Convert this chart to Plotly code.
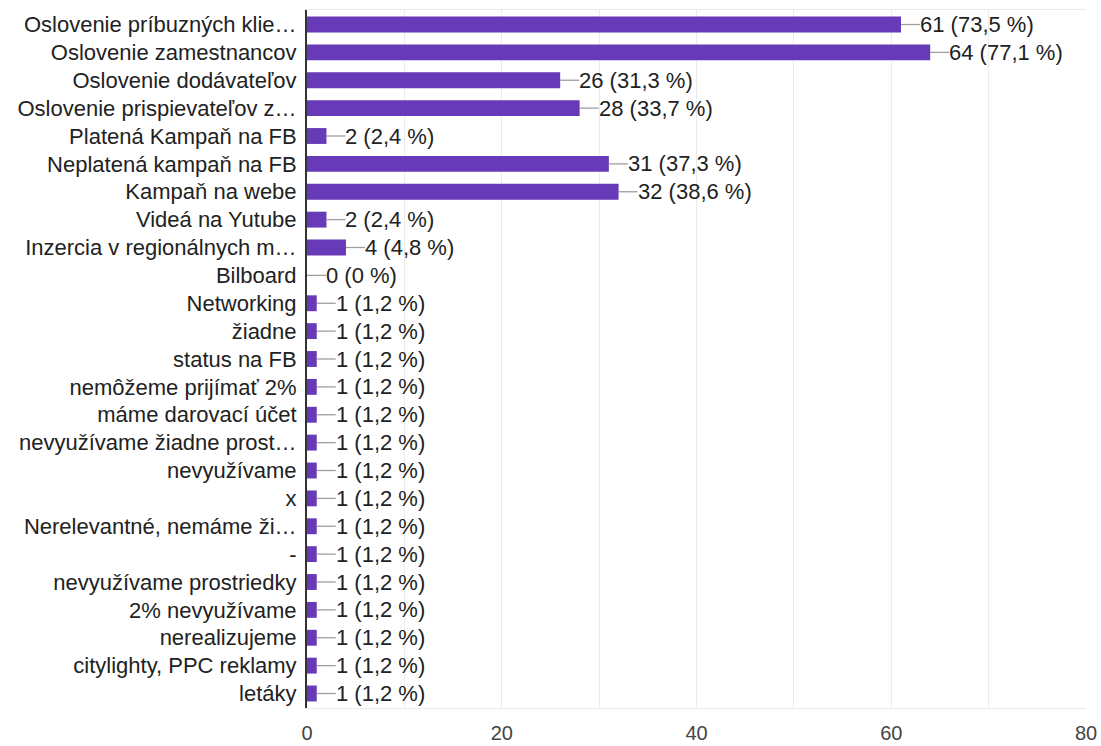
import plotly.graph_objects as go

# Survey answers (multiple choice), number of respondents per option
categories = [
    "Oslovenie príbuzných klie…",
    "Oslovenie zamestnancov",
    "Oslovenie dodávateľov",
    "Oslovenie prispievateľov z…",
    "Platená Kampaň na FB",
    "Neplatená kampaň na FB",
    "Kampaň na webe",
    "Videá na Yutube",
    "Inzercia v regionálnych m…",
    "Bilboard",
    "Networking",
    "žiadne",
    "status na FB",
    "nemôžeme prijímať 2%",
    "máme darovací účet",
    "nevyužívame žiadne prost…",
    "nevyužívame",
    "x",
    "Nerelevantné, nemáme ži…",
    "-",
    "nevyužívame prostriedky",
    "2% nevyužívame",
    "nerealizujeme",
    "citylighty, PPC reklamy",
    "letáky",
]
counts = [61, 64, 26, 28, 2, 31, 32, 2, 4, 0,
          1, 1, 1, 1, 1, 1, 1, 1, 1, 1, 1, 1, 1, 1, 1]
respondents = 83

x_ticks = [0, 20, 40, 60, 80]

FONT = "Liberation Sans, Arial, sans-serif"
FONT_SIZE = 22
BAR_COLOR = "#673ab7"


def fmt_label(n):
    pct = round(n / respondents * 100, 1)
    pct_txt = str(int(pct)) if pct == int(pct) else f"{pct:.1f}".replace(".", ",")
    return f"{n} ({pct_txt} %)"


fig = go.Figure(
    go.Bar(
        x=counts,
        y=categories,
        orientation="h",
        marker=dict(color=BAR_COLOR, line=dict(width=0)),
        hoverinfo="skip",
    )
)

# Leader line + value label for every bar
for cat, n in zip(categories, counts):
    fig.add_shape(
        type="line",
        xref="x", yref="y",
        xsizemode="pixel",
        xanchor=n,
        x0=0, x1=19,
        y0=cat, y1=cat,
        line=dict(color="#9e9e9e", width=1.3),
        layer="above",
    )
    fig.add_annotation(
        x=n, y=cat,
        xref="x", yref="y",
        text=fmt_label(n),
        showarrow=False,
        xanchor="left",
        xshift=17,
        font=dict(family=FONT, size=FONT_SIZE, color="#222222"),
    )

fig.update_layout(
    width=1101,
    height=746,
    margin=dict(l=307, r=15, t=10, b=38, autoexpand=False),
    paper_bgcolor="white",
    plot_bgcolor="white",
    bargap=0.43,
    showlegend=False,
    font=dict(family=FONT, size=FONT_SIZE, color="#222222"),
)

fig.update_xaxes(
    range=[0, 80],
    tickvals=x_ticks,
    ticktext=[str(t) for t in x_ticks],
    showgrid=True,
    gridcolor="#ebebeb",
    gridwidth=1,
    minor=dict(dtick=10, showgrid=True, gridcolor="#ebebeb", gridwidth=1),
    showline=True,
    mirror=True,
    linecolor="#ebebeb",
    linewidth=1,
    zeroline=False,
    ticks="",
    ticklabelstandoff=7,
    automargin=False,
    tickfont=dict(family=FONT, size=20, color="#444444"),
    fixedrange=True,
)

fig.update_yaxes(
    categoryorder="array",
    categoryarray=categories,
    autorange="reversed",
    showline=True,
    linecolor="#333333",
    linewidth=2,
    showgrid=False,
    ticks="",
    ticklabelstandoff=4,
    automargin=False,
    tickfont=dict(family=FONT, size=FONT_SIZE, color="#222222"),
    fixedrange=True,
)

fig.write_html("out.html")
